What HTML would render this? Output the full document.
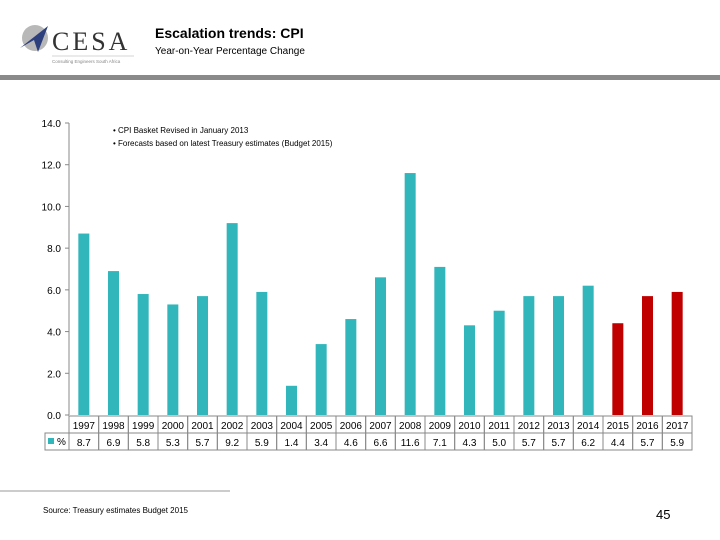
<!DOCTYPE html>
<html><head><meta charset="utf-8"><style>
body{margin:0;background:#fff;font-family:"Liberation Sans",sans-serif;}
#wrap{position:relative;width:720px;height:540px;overflow:hidden;}
</style></head><body>
<div id="wrap">
<svg width="720" height="540" id="svg" font-family="Liberation Sans, sans-serif">
  <g>
    <circle cx="35" cy="38" r="13" fill="#b8b8b8"/>
    <polygon points="20,48 48,26 38,52 34,40" fill="#2d3f7c"/>
    <text x="52" y="50" font-size="26" font-family="Liberation Serif, serif" fill="#333" letter-spacing="3">CESA</text>
    <line x1="52" y1="56" x2="134" y2="56" stroke="#aaa" stroke-width="0.6"/>
    <text x="52" y="63" font-size="4.5" fill="#888">Consulting Engineers South Africa</text>
  </g>
  <text x="155" y="38" font-size="14" font-weight="bold" fill="#000">Escalation trends: CPI</text>
  <text x="155" y="54" font-size="10" fill="#000">Year-on-Year Percentage Change</text>
  <rect x="0" y="75" width="720" height="5" fill="#8a8a8a"/>
  <text x="113" y="133" font-size="8" fill="#000">• CPI Basket Revised in January 2013</text>
  <text x="113" y="146" font-size="8" fill="#000">• Forecasts based on latest Treasury estimates (Budget 2015)</text>
  <g id="axes"></g><g id="bars"></g><g id="table"></g>
  <line x1="0" y1="491" x2="230" y2="491" stroke="#999" stroke-width="1"/>
  <text x="43" y="513" font-size="8" fill="#000">Source: Treasury estimates Budget 2015</text>
  <text x="656" y="519" font-size="13" fill="#000">45</text>
</svg>
</div>
<script>
const categories=["1997","1998","1999","2000","2001","2002","2003","2004","2005","2006","2007","2008","2009","2010","2011","2012","2013","2014","2015","2016","2017"];
const values=[8.7,6.9,5.8,5.3,5.7,9.2,5.9,1.4,3.4,4.6,6.6,11.6,7.1,4.3,5.0,5.7,5.7,6.2,4.4,5.7,5.9];
const forecast=[false,false,false,false,false,false,false,false,false,false,false,false,false,false,false,false,false,false,true,true,true];
const yTicks=[0,2,4,6,8,10,12,14];
const NS="http://www.w3.org/2000/svg";
const x0=69,x1=692,y0=415,yTop=123,yMax=14;
const cw=(x1-x0)/categories.length;
const y=v=>y0-(v/yMax)*(y0-yTop);
const xc=i=>x0+cw*(i+0.5);
function mk(tag,attrs,parent,txt){const e=document.createElementNS(NS,tag);for(const k in attrs)e.setAttribute(k,attrs[k]);if(txt!==undefined)e.textContent=txt;parent.appendChild(e);return e;}
const axes=document.getElementById('axes');
yTicks.forEach(t=>{
  const e=mk('text',{x:61,y:y(t)+4,'font-size':10,'text-anchor':'end',fill:'#000'},axes,t.toFixed(1));
  
  
  const tk=mk('line',{x1:65,y1:y(t),x2:69,y2:y(t),stroke:'#888'},axes);
  
  
});
const ax=mk('line',{x1:x0,y1:yTop,x2:x0,y2:y0,stroke:'#888'},axes);


const bars=document.getElementById('bars');
values.forEach((v,i)=>{
  const r=mk('rect',{x:xc(i)-5.5,y:y(v),width:11,height:y0-y(v),fill:forecast[i]?'#c00000':'#31b6bb'},bars);
  
  
});
const tb=document.getElementById('table');
const r1=416,r2=433,r3=450;
const leg=mk('rect',{x:45,y:r2,width:x0-45,height:r3-r2,fill:'none',stroke:'#888'},tb);


const sw=mk('rect',{x:48,y:438,width:6,height:6,fill:'#31b6bb'},tb);


const lt=mk('text',{x:57,y:445,'font-size':10,fill:'#000'},tb,'%');


categories.forEach((c,i)=>{
  const left=x0+cw*i;
  const a=mk('rect',{x:left,y:r1,width:cw,height:r2-r1,fill:'none',stroke:'#888'},tb);
  
  
  const b=mk('rect',{x:left,y:r2,width:cw,height:r3-r2,fill:'none',stroke:'#888'},tb);
  
  
  const t1=mk('text',{x:xc(i),y:r2-4,'font-size':10,'text-anchor':'middle',fill:'#000'},tb,c);
  
  
  const t2=mk('text',{x:xc(i),y:r3-4,'font-size':10,'text-anchor':'middle',fill:'#000'},tb,values[i].toFixed(1));
  
  
});
</script>
</body></html>
